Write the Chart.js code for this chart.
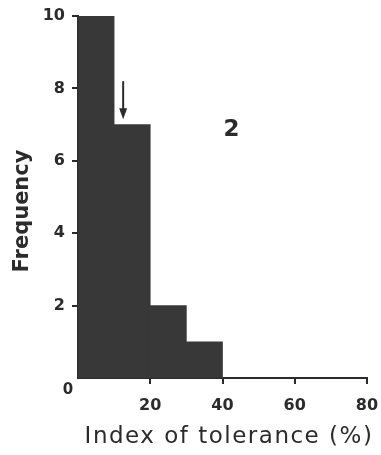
<!DOCTYPE html>
<html>
<head>
<meta charset="utf-8">
<script src="https://cdn.jsdelivr.net/npm/chart.js@4/dist/chart.umd.min.js"></script>
<style>
  html, body { margin: 0; padding: 0; background: #fff; }
  #wrap { width: 381px; height: 455px; }
</style>
</head>
<body>
<div id="wrap"><canvas id="chart1"></canvas></div>
<script>
// histogram bins (centre of each 10% bin) and counts
const binCentres = [5, 15, 25, 35];
const counts = [10, 7, 2, 1];
const xTicks = [20, 40, 60, 80];
const yTicks = [2, 4, 6, 8, 10];
const panelLabel = '2';
const xTitle = 'Index of tolerance (%)';
const yTitle = 'Frequency';
// arrow marking the mean, from top to tip (data units)
const arrowX = [12.5, 12.5];
const arrowY = [8.2, 7.15];

const ink = '#2b2b2b';
const fontFam = '"DejaVu Sans", sans-serif';

const extras = {
    id: 'extras',
    afterDraw(chart) {
        const ctx = chart.ctx;
        const x = chart.scales.x, y = chart.scales.y;
        ctx.save();
        // arrow
        const ax = x.getPixelForValue(arrowX[0]);
        const ay0 = y.getPixelForValue(arrowY[0]);
        const ay1 = y.getPixelForValue(arrowY[1]);
        ctx.strokeStyle = ink;
        ctx.fillStyle = ink;
        ctx.lineWidth = 2;
        ctx.beginPath();
        ctx.moveTo(ax, ay0);
        ctx.lineTo(ax, ay1 - 8);
        ctx.stroke();
        ctx.beginPath();
        ctx.moveTo(ax - 4, ay1 - 11);
        ctx.lineTo(ax + 4, ay1 - 11);
        ctx.lineTo(ax, ay1);
        ctx.closePath();
        ctx.fill();
        // panel number
        ctx.font = 'bold 23px ' + fontFam;
        ctx.textAlign = 'center';
        ctx.textBaseline = 'middle';
        ctx.fillText(panelLabel, x.getPixelForValue(42.5), y.getPixelForValue(6.85));
        // shared origin label
        ctx.font = 'bold 15px ' + fontFam;
        ctx.fillText('0', x.left - 10, y.bottom + 12);
        // x axis title
        ctx.font = '23px ' + fontFam;
        ctx.letterSpacing = '1.5px';
        ctx.fillText(xTitle, 229, 437);
        // y axis title
        ctx.letterSpacing = '0px';
        ctx.translate(23, 211);
        ctx.rotate(-Math.PI / 2);
        ctx.font = 'bold 21px ' + fontFam;
        ctx.fillText(yTitle, 0, 0);
        ctx.restore();
    }
};

new Chart("chart1", {
    type: "bar",
    data: {
        datasets: [{
            data: binCentres.map((c, i) => ({ x: c, y: counts[i] })),
            backgroundColor: '#383838',
            borderWidth: 0,
            barPercentage: 1,
            categoryPercentage: 1
        }]
    },
    options: {
        responsive: true,
        maintainAspectRatio: false,
        animation: false,
        layout: { padding: { top: 16, right: 14, left: 0, bottom: 0 } },
        plugins: {
            legend: { display: false },
            tooltip: { enabled: false }
        },
        scales: {
            x: {
                type: 'linear',
                min: 0,
                max: 80,
                offset: false,
                afterBuildTicks: (s) => { s.ticks = xTicks.map(v => ({ value: v })); },
                afterFit: (s) => { s.height = 77; s.paddingRight = 0; s.paddingLeft = 0; },
                grid: { offset: false, drawOnChartArea: false, tickLength: 6, color: ink, lineWidth: 2 },
                border: { display: true, color: ink, width: 2 },
                ticks: { color: ink, padding: 12, maxRotation: 0, font: { family: fontFam, size: 16, weight: 'bold' } }
            },
            y: {
                min: 0,
                max: 10,
                afterBuildTicks: (s) => { s.ticks = yTicks.map(v => ({ value: v })); },
                afterFit: (s) => { s.width = 78; s.paddingTop = 0; s.paddingBottom = 0; },
                grid: { drawOnChartArea: false, tickLength: 6, color: ink, lineWidth: 2 },
                border: { display: true, color: ink, width: 2 },
                ticks: { color: ink, padding: 7, font: { family: fontFam, size: 16, weight: 'bold' } }
            }
        }
    },
    plugins: [extras]
});
</script>
</body>
</html>
